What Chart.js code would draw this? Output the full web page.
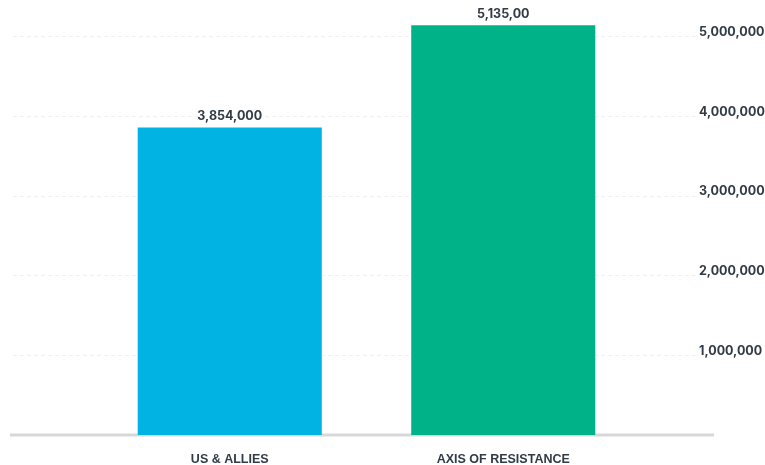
<!DOCTYPE html>
<html>
<head>
<meta charset="utf-8">
<script src="https://cdn.jsdelivr.net/npm/chart.js@4"></script>
<style>
    html, body { margin: 0; padding: 0; background: #fff; }
    #wrap { width: 765px; height: 465px; position: relative; }
</style>
</head>
<body>
<div id="wrap"><canvas id="forcesChart"></canvas></div>
<script>
// Data
const categories = ['US & ALLIES', 'AXIS OF RESISTANCE'];
const troopCounts = [3854000, 5135000];
const valueLabels = ['3,854,000', '5,135,00'];
const barColors = ['#00b3e3', '#00b287'];
const yTicks = [1000000, 2000000, 3000000, 4000000, 5000000];

const textColor = '#313b46';
const numberFont = 'Inter, "Noto Sans", sans-serif';

// Dashed gridlines across the full width plus the thick baseline
const gridPlugin = {
    id: 'gridPlugin',
    beforeDatasetsDraw(chart) {
        const ctx = chart.ctx;
        const y = chart.scales.y;
        ctx.save();
        ctx.strokeStyle = '#efefef';
        ctx.lineWidth = 1;
        ctx.setLineDash([4, 3]);
        yTicks.forEach(v => {
            const py = Math.round(y.getPixelForValue(v)) + 0.5;
            ctx.beginPath();
            ctx.moveTo(13, py);
            ctx.lineTo(697, py);
            ctx.stroke();
        });
        ctx.setLineDash([]);
        ctx.strokeStyle = '#d8d8d8';
        ctx.lineWidth = 3;
        const base = y.getPixelForValue(0);
        ctx.beginPath();
        ctx.moveTo(10, base);
        ctx.lineTo(714, base);
        ctx.stroke();
        ctx.restore();
    }
};

// Value text above each bar
const valueLabelPlugin = {
    id: 'valueLabelPlugin',
    afterDatasetsDraw(chart) {
        const ctx = chart.ctx;
        const meta = chart.getDatasetMeta(0);
        ctx.save();
        ctx.fillStyle = textColor;
        ctx.font = 'bold 12.5px ' + numberFont;
        ctx.textAlign = 'center';
        ctx.textBaseline = 'bottom';
        meta.data.forEach((bar, i) => {
            ctx.fillText(valueLabels[i], bar.x, bar.y - 5);
        });
        ctx.restore();
    }
};

new Chart(document.getElementById('forcesChart'), {
    type: 'bar',
    data: {
        labels: categories,
        datasets: [{
            data: troopCounts,
            backgroundColor: barColors,
            barPercentage: 0.673,
            categoryPercentage: 1
        }]
    },
    options: {
        responsive: true,
        maintainAspectRatio: false,
        animation: false,
        layout: { padding: { top: 4, left: 93, right: 0, bottom: 0 } },
        plugins: {
            legend: { display: false },
            tooltip: { enabled: false }
        },
        scales: {
            x: {
                grid: { display: false, drawTicks: false },
                border: { display: false },
                afterFit(axis) { axis.height = 30; },
                ticks: {
                    padding: 17,
                    color: textColor,
                    font: { family: '"Liberation Sans Narrow", "Liberation Sans", sans-serif', size: 12.5, weight: 'bold' }
                }
            },
            y: {
                position: 'right',
                min: 0,
                max: 5400000,
                grid: { display: false, drawTicks: false },
                border: { display: false },
                afterBuildTicks(axis) {
                    axis.ticks = [0].concat(yTicks).map(v => ({ value: v }));
                },
                afterFit(axis) {
                    // labels sit well right of the plot; keep the padding off the top/bottom
                    axis.width = 125;
                    axis.paddingTop = 0;
                    axis.paddingBottom = 0;
                },
                ticks: {
                    padding: 59,
                    labelOffset: -4,
                    color: textColor,
                    font: { family: numberFont, size: 12.5, weight: 'bold' },
                    callback: v => v === 0 ? '' : v.toLocaleString('en-US')
                }
            }
        }
    },
    plugins: [gridPlugin, valueLabelPlugin]
});
</script>
</body>
</html>
